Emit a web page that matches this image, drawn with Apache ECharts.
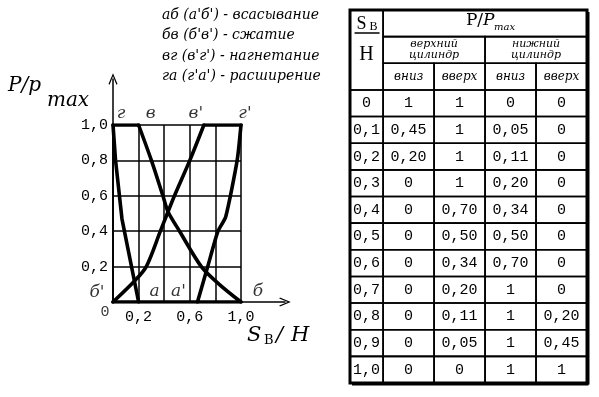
<!DOCTYPE html>
<html><head><meta charset="utf-8">
<script src="https://cdn.jsdelivr.net/npm/echarts@6/dist/echarts.min.js"></script>
<style>html,body{margin:0;padding:0;background:#fff}#c{width:599px;height:397px}</style>
</head><body><div id="c"></div>
<script>
// ---- curves of the diagram ----
const dischargeUpper   = [[0,1],[0.2,1]];
const expansionUpper   = [[0,1],[0.02,0.8],[0.07,0.47],[0.2,0]];
const compressionUpper = [[1,0],[0.83,0.1],[0.69,0.2],[0.52,0.4],[0.43,0.51],[0.39,0.6],[0.3,0.8],[0.2,1]];
const compressionLower = [[0,0],[0.17,0.12],[0.26,0.2],[0.37,0.4],[0.43,0.51],[0.48,0.6],[0.6,0.8],[0.71,1]];
const dischargeLower   = [[0.71,1],[1,1]];
const expansionLower   = [[1,1],[0.97,0.8],[0.88,0.48],[0.82,0.4],[0.74,0.2],[0.66,0]];
const suction          = [[0,0],[1,0]];

// key point labels
const pointNames = ['г','в',"в'","г'",'а',"а'",'б',"б'",'0'];
const pointX     = [0, 0.2, 0.71, 1, 0.2, 0.66, 1, 0, 0];
const pointY     = [1, 1, 1, 1, 0, 0, 0, 0, 0];

// tick labels
const xTickValues = [0.2, 0.6, 1.0];
const yTickValues = [0.2, 0.4, 0.6, 0.8, 1.0];

// legend lines
const legendLines = ["аб (а'б') - всасывание", "бв (б'в') - сжатие", "вг (в'г') - нагнетание", "га (г'а') - расширение"];

// ---- table ----
const sRatio    = [0, 0.1, 0.2, 0.3, 0.4, 0.5, 0.6, 0.7, 0.8, 0.9, 1.0];
const upperDown = [1, 0.45, 0.20, 0, 0, 0, 0, 0, 0, 0, 0];
const upperUp   = [1, 1, 1, 1, 0.70, 0.50, 0.34, 0.20, 0.11, 0.05, 0];
const lowerDown = [0, 0.05, 0.11, 0.20, 0.34, 0.50, 0.70, 1, 1, 1, 1];
const lowerUp   = [0, 0, 0, 0, 0, 0, 0, 0, 0.20, 0.45, 1];
const groupNames = ['верхний\nцилиндр', 'нижний\nцилиндр'];
const dirNames   = ['вниз', 'вверх', 'вниз', 'вверх'];

const fmtV = v => v === 0 ? '0' : v === 1 ? '1' : v.toFixed(2).replace('.', ',');
const fmtS = v => v === 0 ? '0' : v.toFixed(1).replace('.', ',');
const fmtT = v => (Math.round(v * 10) / 10).toFixed(1).replace('.', ',');
const inList = (v, list) => list.some(t => Math.abs(t - v) < 1e-6);

// build table cells
const cells = [];
cells.push({x0:0, x1:0.65, y0:0, y1:3, kind:'sh'});
cells.push({x0:0.65, x1:4.65, y0:0, y1:1, kind:'pmax'});
groupNames.forEach((g,i) => cells.push({x0:0.65+2*i, x1:2.65+2*i, y0:1, y1:2, kind:'small', text:g}));
dirNames.forEach((d,i) => cells.push({x0:0.65+i, x1:1.65+i, y0:2, y1:3, kind:'dir', text:d}));
sRatio.forEach((s,r) => {
  cells.push({x0:0, x1:0.65, y0:3+r, y1:4+r, kind:'val', text:fmtS(s)});
  [upperDown, upperUp, lowerDown, lowerUp].forEach((arr,c) =>
    cells.push({x0:0.65+c, x1:1.65+c, y0:3+r, y1:4+r, kind:'val', text:fmtV(arr[r])}));
});
cells.push({x0:0, x1:4.65, y0:0, y1:14, kind:'outer'});

function renderCell(params, api) {
  const c = cells[params.dataIndex];
  const p0 = api.coord([c.x0, c.y0]), p1 = api.coord([c.x1, c.y1]);
  const x = Math.min(p0[0], p1[0]), y = Math.min(p0[1], p1[1]);
  const w = Math.abs(p1[0] - p0[0]), h = Math.abs(p1[1] - p0[1]);
  const cx = x + w / 2, cy = y + h / 2;
  const ch = [];
  if (c.kind === 'outer') {
    ch.push({type:'rect', shape:{x, y, width:w, height:h}, style:{fill:'rgba(0,0,0,0)', stroke:'#000', lineWidth:3}});
    ch.push({type:'line', shape:{x1:x+w+1.5, y1:y+2, x2:x+w+1.5, y2:y+h+1.5}, style:{stroke:'#000', lineWidth:2}});
    ch.push({type:'line', shape:{x1:x+2, y1:y+h+1.5, x2:x+w+1.5, y2:y+h+1.5}, style:{stroke:'#000', lineWidth:2}});
    return {type:'group', children:ch};
  }
  ch.push({type:'rect', shape:{x, y, width:w, height:h}, style:{fill:'rgba(0,0,0,0)', stroke:'#000', lineWidth:1.6}});
  const T = (text, tx, ty, font, align) => ({type:'text', style:{text, x:tx, y:ty, align:align||'center', verticalAlign:'middle', font, fill:'#000'}});
  if (c.kind === 'val') ch.push(T(c.text, cx, cy, '15px "Liberation Mono"'));
  else if (c.kind === 'dir') ch.push(T(c.text, cx, cy, 'italic 12px "DejaVu Serif"'));
  else if (c.kind === 'small') ch.push({type:'text', style:{text:c.text, x:cx, y:cy, align:'center', verticalAlign:'middle', font:'italic 11px "DejaVu Serif"', lineHeight:11, fill:'#000'}});
  else if (c.kind === 'pmax') {
    ch.push(T('P/', cx - 2, cy - 3, '17px "DejaVu Serif"', 'right'));
    ch.push(T('P', cx - 2, cy - 3, 'italic 17px "DejaVu Serif"', 'left'));
    ch.push(T('max', cx + 9, cy + 4, 'italic 10px "DejaVu Serif"', 'left'));
  } else if (c.kind === 'sh') {
    ch.push(T('S', cx - 5, y + 14, '18px "Liberation Serif"'));
    ch.push(T('В', cx + 7, y + 17, '12px "Liberation Serif"'));
    ch.push({type:'line', shape:{x1:cx - 12, y1:y + 23, x2:cx + 13, y2:y + 23}, style:{stroke:'#000', lineWidth:1.5}});
    ch.push(T('H', cx, y + 45, '20px "Liberation Serif"'));
  }
  return {type:'group', children:ch};
}

const curveStyle = (data, smooth) => ({
  type:'line', xAxisIndex:0, yAxisIndex:0, data, smooth: smooth || false, showSymbol:false, symbol:'none',
  lineStyle:{color:'#000', width:3.6, cap:'round', join:'round'}, silent:true, z:5
});

const labelOffsets = [[8,-11],[12,-11],[-8,-11],[4,-11],[16,-10],[-19,-10],[17,-10],[-16,-9],[-8,10]];

const option = {
  animation:false,
  backgroundColor:'#fff',
  title:{
    text: legendLines.join('\n'), left:162, top:5, padding:0,
    textStyle:{fontFamily:'DejaVu Serif', fontStyle:'italic', fontWeight:'normal', fontSize:14, lineHeight:20.5, color:'#000'}
  },
  grid:[
    {left:113, top:125, width:128, height:177, outerBoundsMode:'none', containLabel:false},
    {left:350, top:10, width:237, height:373, outerBoundsMode:'none', containLabel:false},
    {left:113, top:79, width:172, height:223, outerBoundsMode:'none', containLabel:false}
  ],
  xAxis:[
    {gridIndex:0, type:'value', min:0, max:1, interval:0.2,
     axisLine:{show:true, lineStyle:{color:'#000', width:1.5}}, axisTick:{show:false},
     splitLine:{show:true, lineStyle:{color:'#000', width:1.5}},
     axisLabel:{show:true, margin:8, color:'#000', fontFamily:'Liberation Mono', fontSize:15,
       formatter: v => inList(v, xTickValues) ? fmtT(v) : ''}},
    {gridIndex:1, type:'value', min:0, max:4.65, show:false},
    {gridIndex:2, type:'value', min:0, max:1, 
     axisLine:{show:true, symbol:['none','path://M5,0L10,12L8.8,12.8L5,3.4L1.2,12.8L0,12Z'], symbolSize:[9,14], lineStyle:{color:'#000', width:1.5}},
     axisTick:{show:false}, axisLabel:{show:false}, splitLine:{show:false}}
  ],
  yAxis:[
    {gridIndex:0, type:'value', min:0, max:1, interval:0.2,
     axisLine:{show:true, lineStyle:{color:'#000', width:1.5}}, axisTick:{show:false},
     splitLine:{show:true, lineStyle:{color:'#000', width:1.5}},
     axisLabel:{show:true, margin:5, color:'#000', fontFamily:'Liberation Mono', fontSize:15,
       formatter: v => inList(v, yTickValues) ? fmtT(v) : ''}},
    {gridIndex:1, type:'value', min:0, max:14, inverse:true, show:false},
    {gridIndex:2, type:'value', min:0, max:1,
     axisLine:{show:true, symbol:['none','path://M5,0L10,12L8.8,12.8L5,3.4L1.2,12.8L0,12Z'], symbolSize:[9,14], lineStyle:{color:'#000', width:1.5}},
     axisTick:{show:false}, axisLabel:{show:false}, splitLine:{show:false}}
  ],
  graphic:[
    {type:'text', x:8, y:86, style:{text:'P/p', font:'italic 20px "DejaVu Serif"', verticalAlign:'middle', fill:'#000'}},
    {type:'text', x:68, y:101, style:{text:'max', font:'italic 20px "DejaVu Serif"', align:'center', verticalAlign:'middle', fill:'#000'}},
    {type:'text', x:247, y:336, style:{text:'S', font:'italic 21px "DejaVu Serif"', verticalAlign:'middle', fill:'#000'}},
    {type:'text', x:264, y:341, style:{text:'В', font:'13px "DejaVu Serif"', verticalAlign:'middle', fill:'#000'}},
    {type:'text', x:276, y:336, style:{text:'/', font:'italic 21px "DejaVu Serif"', verticalAlign:'middle', fill:'#000'}},
    {type:'text', x:291, y:336, style:{text:'H', font:'italic 21px "DejaVu Serif"', verticalAlign:'middle', fill:'#000'}}
  ],
  series:[
    curveStyle(suction),
    curveStyle(dischargeUpper),
    curveStyle(expansionUpper),
    curveStyle(compressionUpper, 0.3),
    curveStyle(compressionLower, 0.3),
    curveStyle(dischargeLower),
    curveStyle(expansionLower, 0.2),
    {type:'scatter', xAxisIndex:0, yAxisIndex:0, symbolSize:0, silent:true, z:6,
     data: pointNames.map((n,i) => ({
       name:n, value:[pointX[i], pointY[i]],
       label:{show:true, position:'inside', formatter:'{b}', offset:labelOffsets[i], color:'#000',
         fontFamily: n === '0' ? 'Liberation Mono' : 'DejaVu Serif',
         fontStyle: n === '0' ? 'normal' : 'italic',
         fontSize: n === '0' ? 15 : 17}
     }))},
    {type:'custom', coordinateSystem:'cartesian2d', xAxisIndex:1, yAxisIndex:1, silent:true,
     renderItem: renderCell, data: cells.map(c => [c.x0, c.y0, c.x1, c.y1])}
  ]
};
const chart = echarts.init(document.getElementById('c'), null, {renderer:'canvas'});
chart.setOption(option);
</script></body></html>
